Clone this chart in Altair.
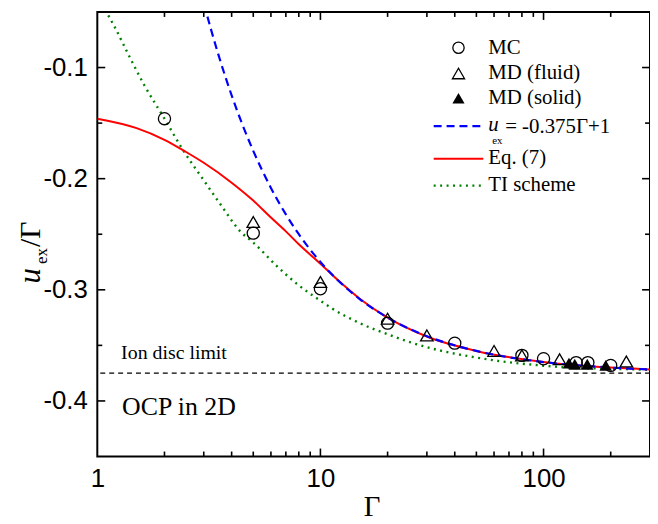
import altair as alt
import pandas as pd

# ---- data ----
mc_g = [2, 5, 10, 20, 40, 80, 100, 140, 158, 200]
mc_u = [-0.146, -0.249, -0.299, -0.330, -0.348, -0.359, -0.362, -0.3655, -0.3655, -0.368]

mdf_g = [5, 10, 20, 30, 60, 80, 118, 235]
mdf_u = [-0.239, -0.293, -0.326, -0.341, -0.355, -0.359, -0.3625, -0.3645]

mds_g = [130, 138, 157, 190]
mds_u = [-0.366, -0.367, -0.367, -0.368]

lin_g = [2.5, 3, 3.5, 4, 5, 6, 7, 8, 10, 12, 15, 20, 30, 50, 100, 200, 300]
lin_u = [0.025, -0.0417, -0.0893, -0.125, -0.175, -0.2083, -0.2321, -0.25, -0.275,
         -0.2917, -0.3083, -0.325, -0.3417, -0.355, -0.365, -0.370, -0.3717]

eq7_g = [1, 1.5, 2, 2.5, 3, 4, 5, 6, 7, 8, 10, 12, 15, 20, 30, 50, 100, 200, 300]
eq7_u = [-0.146, -0.1545, -0.165, -0.176, -0.1857, -0.2036, -0.2197, -0.2349, -0.2474, -0.259,
         -0.2765, -0.2915, -0.308, -0.325, -0.342, -0.355, -0.365, -0.370, -0.3717]

ti_g = [1, 1.1, 1.2, 1.4, 1.62, 2, 2.4, 3, 3.55, 4.4, 5, 6.4, 8, 10, 11.2, 15, 20, 26,
        35, 47, 66, 92, 130, 200, 300]
ti_u = [-0.032, -0.05, -0.064, -0.091, -0.1155, -0.146, -0.173, -0.2015, -0.2226, -0.248,
        -0.2574, -0.279, -0.296, -0.3098, -0.3164, -0.330, -0.340, -0.348, -0.355, -0.360,
        -0.3646, -0.3676, -0.370, -0.371, -0.372]

ion_limit = [-0.375]

x_major = [10, 100]
x_minor = [2, 3, 4, 5, 6, 7, 8, 9, 20, 30, 40, 50, 60, 70, 80, 90, 200]
x_labels = [1, 10, 100]
y_major = [-0.4, -0.3, -0.2, -0.1]
y_minor = [-0.35, -0.25, -0.15]

W, H = 557, 448
SERIF = "Liberation Serif"
SANS = "Liberation Sans"

xs = alt.Scale(type="log", domain=[1, 300], nice=False)
ys = alt.Scale(domain=[-0.45, -0.05], nice=False, zero=False)
xax = alt.Axis(values=x_labels, ticks=False, domain=False, grid=False, title=None,
               labelFont=SANS, labelFontSize=26, labelPadding=9, labelColor="black",
               labelFlush=False, labelOverlap=False, labelExpr="format(datum.value, 'd')")
yax = alt.Axis(values=y_major, ticks=False, domain=False, grid=False, title=None,
               labelFont=SANS, labelFontSize=26, labelPadding=10, labelColor="black",
               labelFlush=False, labelOverlap=False,
               labelExpr="'-' + format(abs(datum.value), '.1f')")


def X(f="g"):
    return alt.X(f + ":Q", scale=xs, axis=xax)


def Y(f="u"):
    return alt.Y(f + ":Q", scale=ys, axis=yax)


def df(g, u):
    return pd.DataFrame({"g": g, "u": u})


one = pd.DataFrame({"a": [0]})

layers = []

# ion disc limit
layers.append(alt.Chart(pd.DataFrame({"u": ion_limit})).mark_rule(
    color="black", strokeWidth=1.3, strokeDash=[5, 4]).encode(y=Y()))

# curves
layers.append(alt.Chart(df(ti_g, ti_u)).mark_line(
    color="#008000", strokeWidth=2.4, strokeDash=[2, 4.5], clip=True,
    interpolate="monotone").encode(x=X(), y=Y()))
layers.append(alt.Chart(df(eq7_g, eq7_u)).mark_line(
    color="#FF0000", strokeWidth=2, clip=True,
    interpolate="monotone").encode(x=X(), y=Y()))
layers.append(alt.Chart(df(lin_g, lin_u)).mark_line(
    color="#0000FF", strokeWidth=2.2, strokeDash=[8, 5], clip=True,
    interpolate="monotone").encode(x=X(), y=Y()))

# points
layers.append(alt.Chart(df(mc_g, mc_u)).mark_point(
    shape="circle", filled=False, color="black", opacity=1, size=150,
    strokeWidth=1.3).encode(x=X(), y=Y()))
layers.append(alt.Chart(df(mdf_g, mdf_u)).mark_point(
    shape="triangle-up", filled=False, color="black", opacity=1, size=160,
    strokeWidth=1.3).encode(x=X(), y=Y()))
layers.append(alt.Chart(df(mds_g, mds_u)).mark_point(
    shape="triangle-up", filled=True, color="black", opacity=1, size=160).encode(x=X(), y=Y()))

# inward ticks (frame on all four sides)
tick_color = "black"
for vals, ln in ((y_major, 8), (y_minor, 5)):
    d = pd.DataFrame({"u": vals})
    layers.append(alt.Chart(d).mark_rule(color=tick_color, strokeWidth=1.6).encode(
        y=Y(), x=alt.value(0), x2=alt.value(ln)))
    layers.append(alt.Chart(d).mark_rule(color=tick_color, strokeWidth=1.6).encode(
        y=Y(), x=alt.value(W), x2=alt.value(W - ln)))
for vals, ln in ((x_major, 8), (x_minor, 5)):
    d = pd.DataFrame({"g": vals})
    layers.append(alt.Chart(d).mark_rule(color=tick_color, strokeWidth=1.6).encode(
        x=X(), y=alt.value(H), y2=alt.value(H - ln)))
    layers.append(alt.Chart(d).mark_rule(color=tick_color, strokeWidth=1.6).encode(
        x=X(), y=alt.value(0), y2=alt.value(ln)))


def txt(s, x, y, size=21, font=SERIF, style="normal", align="left", baseline="middle", angle=0):
    kw = dict(text=s, font=font, fontSize=size, fontStyle=style, align=align,
              baseline=baseline, color="black")
    if angle:
        kw["angle"] = angle
    return alt.Chart(one).mark_text(**kw).encode(x=alt.value(x), y=alt.value(y))


# legend
LX_SYM, LX0, LX1, LX_TXT = 364, 339, 389, 394
layers.append(alt.Chart(one).mark_point(shape="circle", filled=False, color="black",
                                        opacity=1, size=130, strokeWidth=1.3).encode(
    x=alt.value(LX_SYM), y=alt.value(36)))
layers.append(alt.Chart(one).mark_point(shape="triangle-up", filled=False, color="black",
                                        opacity=1, size=150, strokeWidth=1.3).encode(
    x=alt.value(LX_SYM), y=alt.value(62)))
layers.append(alt.Chart(one).mark_point(shape="triangle-up", filled=True, color="black",
                                        opacity=1, size=150).encode(
    x=alt.value(LX_SYM), y=alt.value(87)))
layers.append(alt.Chart(one).mark_rule(color="#0000FF", strokeWidth=2.2, strokeDash=[8, 5]).encode(
    x=alt.value(LX0), x2=alt.value(LX1), y=alt.value(115)))
layers.append(alt.Chart(one).mark_rule(color="#FF0000", strokeWidth=2).encode(
    x=alt.value(LX0), x2=alt.value(LX1), y=alt.value(148)))
layers.append(alt.Chart(one).mark_rule(color="#008000", strokeWidth=2.4, strokeDash=[2, 4.5]).encode(
    x=alt.value(LX0), x2=alt.value(LX1), y=alt.value(175)))

layers.append(txt("MC", LX_TXT, 36))
layers.append(txt("MD (fluid)", LX_TXT, 62))
layers.append(txt("MD (solid)", LX_TXT, 87))
layers.append(txt("u", LX_TXT, 114, style="italic"))
layers.append(txt("ex", LX_TXT + 4, 130, size=11))
layers.append(txt("= -0.375\u0393+1", LX_TXT + 17, 116))
layers.append(txt("Eq. (7)", LX_TXT, 147))
layers.append(txt("TI scheme", LX_TXT, 174))

# annotations in the plot
layers.append(txt("Ion disc limit", 24, 350, size=20, baseline="alphabetic"))
layers.append(txt("OCP in 2D", 25, 406, size=26, baseline="alphabetic"))

# axis titles
layers.append(txt("\u0393", 277, 508, size=29, align="center", baseline="alphabetic"))
layers.append(txt("u", -58, 266, size=31, style="italic", align="center",
                  baseline="alphabetic", angle=270))
layers.append(txt("ex", -51, 246, size=17, align="center", baseline="alphabetic", angle=270))
layers.append(txt("/\u0393", -58, 224, size=30, align="center", baseline="alphabetic", angle=270))

chart = alt.layer(*layers).properties(
    width=W, height=H,
    padding={"left": 90, "top": 2, "right": 0, "bottom": 64},
    autosize=alt.AutoSizeParams(type="none"),
    background="white",
).configure_view(stroke="black", strokeWidth=2)

chart.save("out.html", embed_options={"renderer": "svg", "actions": False})
